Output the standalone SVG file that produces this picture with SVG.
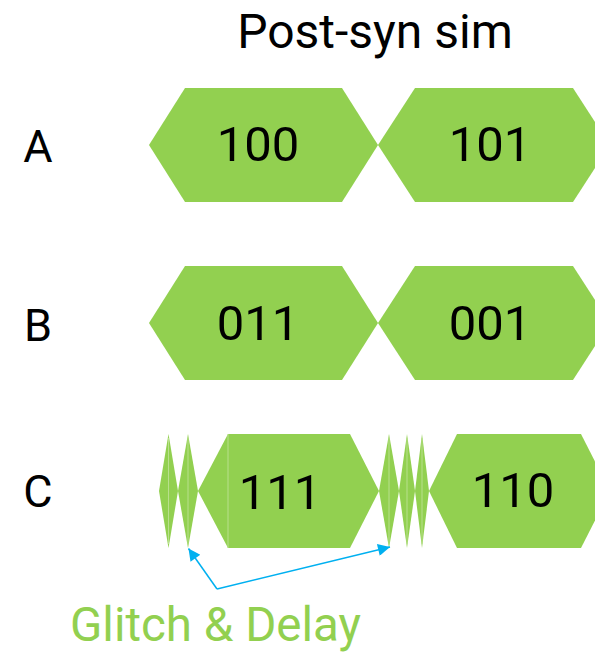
<svg xmlns="http://www.w3.org/2000/svg" width="595" height="653" viewBox="0 0 595 653">
<defs>
<style>
.seg{fill:#92D050;}
.seam{stroke:#B8E08C;stroke-width:1;}
.lbl{font-family:Roboto,"Liberation Sans",sans-serif;font-size:49px;fill:#000;text-anchor:middle;}
.row{font-family:Roboto,"Liberation Sans",sans-serif;font-size:45px;fill:#000;text-anchor:middle;}
.title{font-family:Roboto,"Liberation Sans",sans-serif;font-size:48px;fill:#000;text-anchor:middle;}
.note{font-family:Roboto,"Liberation Sans",sans-serif;font-size:47.5px;fill:#92D050;}
.conn{fill:none;stroke:#00B0F0;stroke-width:1.5;}
</style>
<marker id="ah" viewBox="0 0 10 10" refX="10" refY="5" markerWidth="14" markerHeight="12" markerUnits="userSpaceOnUse" orient="auto">
<path d="M0,0 L10,5 L0,10 z" fill="#00B0F0"/>
</marker>
</defs>
<rect width="595" height="653" fill="#fff"/>
<text class="title" x="375" y="48">Post-syn sim</text>
<g id="labels">
<text class="row" x="38" y="162">A</text>
<text class="row" x="38" y="341">B</text>
<text class="row" x="38" y="507">C</text>
</g>
<g id="a100"><polygon class="seg" points="149,145 185,88 342,88 378,145 342,202 185,202"/><text class="lbl" x="258" y="161">100</text></g>
<g id="a101"><polygon class="seg" points="378,145 415,88 573,88 610,145 573,202 415,202"/><text class="lbl" x="490" y="161">101</text></g>
<g id="b011"><polygon class="seg" points="149,323 185,266 342,266 378,323 342,380 185,380"/><text class="lbl" x="258" y="340">011</text></g>
<g id="b001"><polygon class="seg" points="378,323 415,266 573,266 610,323 573,380 415,380"/><text class="lbl" x="490" y="340">001</text></g>
<g id="cg1"><polygon class="seg" points="159,491 168.5,434 178,491 168.5,548"/><line class="seam" x1="168.5" y1="438" x2="168.5" y2="544"/></g>
<g id="cg2"><polygon class="seg" points="178,491 188,434 198,491 188,548"/><line class="seam" x1="188" y1="438" x2="188" y2="544"/></g>
<g id="c111"><polygon class="seg" points="198,491 228,434 350,434 379,491 350,548 228,548"/><line class="seam" x1="228" y1="434" x2="228" y2="548"/><text class="lbl" x="280" y="509">111</text></g>
<g id="cg3"><polygon class="seg" points="379,491 389,434 399,491 389,548"/><line class="seam" x1="389" y1="438" x2="389" y2="544"/></g>
<g id="cg4"><polygon class="seg" points="399,491 407,434 415,491 407,548"/><line class="seam" x1="407" y1="438" x2="407" y2="544"/></g>
<g id="cg5"><polygon class="seg" points="415,491 422,434 429,491 422,548"/><line class="seam" x1="422" y1="438" x2="422" y2="544"/></g>
<g id="c110"><polygon class="seg" points="429,491 457,434 581,434 610,491 581,548 457,548"/><text class="lbl" x="513" y="507">110</text></g>
<g id="connectors">
<path class="conn" d="M217,589 L188.5,548.5" marker-end="url(#ah)"/>
<path class="conn" d="M217,589 L390,547" marker-end="url(#ah)"/>
</g>
<text class="note" x="70" y="641">Glitch &amp; Delay</text>
</svg>
